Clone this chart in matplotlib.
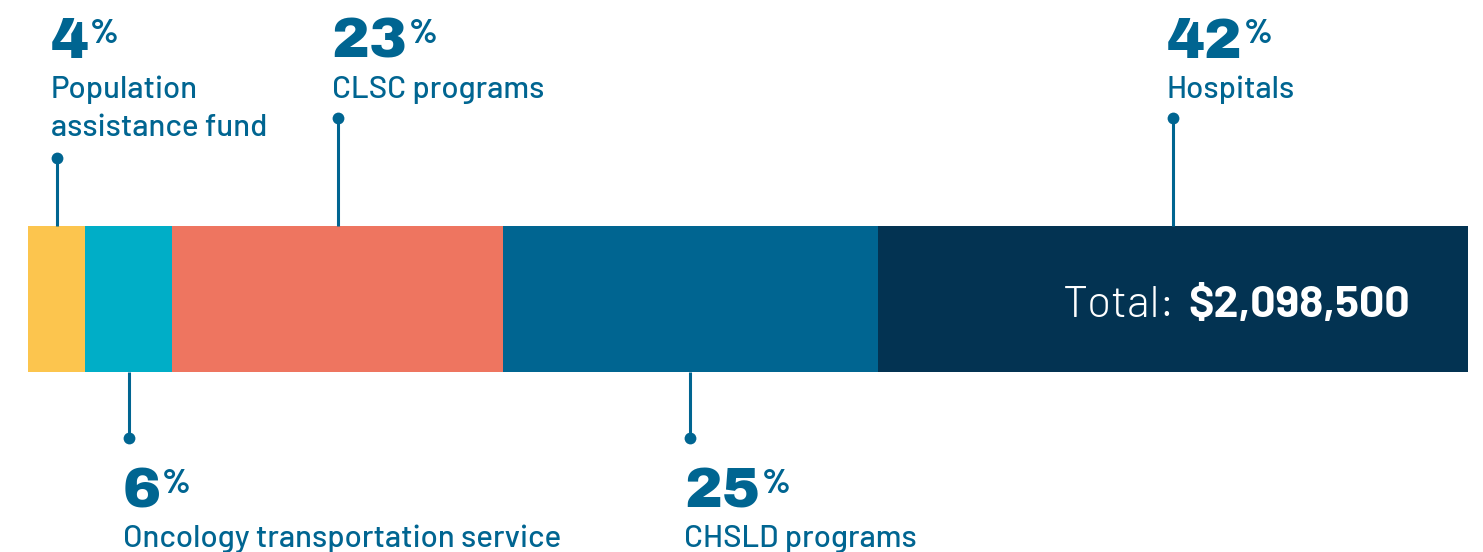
import matplotlib
matplotlib.use("Agg")
import matplotlib.pyplot as plt
import matplotlib.transforms as mtransforms

# ---- data ----
categories = ["Population\nassistance fund", "Oncology transportation service",
              "CLSC programs", "CHSLD programs", "Hospitals"]
percentages = [4, 6, 23, 25, 42]                 # printed labels
segment_share = [3.96, 6.04, 23.0, 26.0, 41.0]   # drawn bar widths
label_side = ["top", "bottom", "top", "bottom", "top"]
total_prefix = "Total:"
total_label = "$2,098,500"

colors = ["#FCC54E", "#00AEC7", "#EE7560", "#006591", "#033352"]
text_color = "#006591"

W, H = 1483, 552
fig = plt.figure(figsize=(W / 100, H / 100), dpi=100)
ax = fig.add_axes([0, 0, 1, 1])
px_per_pct = 1440 / 100
ax.set_xlim(-28 / px_per_pct, (W - 28) / px_per_pct)
ax.set_ylim(H, 0)
ax.axis("off")

bar_y, bar_h = 299, 146
lefts = []
acc = 0
for s in segment_share:
    lefts.append(acc)
    acc += s
ax.barh([bar_y] * len(segment_share), segment_share, left=lefts, height=bar_h,
        color=colors, linewidth=0)

num_family = "Archivo Black"
label_family = "Barlow"

bar_top = bar_y - bar_h / 2
bar_bot = bar_y + bar_h / 2
line_px = 40

fig.canvas.draw()
renderer = fig.canvas.get_renderer()

for cat, p, left, s, side in zip(categories, percentages, lefts, segment_share, label_side):
    xc = left + s / 2
    nlines = cat.count("\n") + 1
    toff = mtransforms.offset_copy(ax.transData, fig=fig, x=-6, y=0, units="dots")
    if side == "top":
        dot_y = 118 + (nlines - 1) * line_px
        y0 = bar_top
        num_base = 58
        lab_base = 98
    else:
        dot_y = 438
        y0 = bar_bot
        num_base = 508
        lab_base = 547
    ax.plot([xc, xc], [y0, dot_y], color=text_color, lw=2.2,
            solid_capstyle="butt", zorder=1)
    ax.plot([xc], [dot_y], "o", color=text_color, ms=8.5, mew=0, zorder=2)
    num = ax.text(xc, num_base, f"{p}", transform=toff, ha="left", va="baseline",
                  fontsize=41, family=num_family, color=text_color)
    bb = num.get_window_extent(renderer)
    fig.text((bb.x1 + 1) / W, 1 - (num_base - 15) / H, "%", ha="left",
             va="baseline", fontsize=25, fontweight="bold", family="Barlow",
             color=text_color)
    for i, ln in enumerate(cat.split("\n")):
        ax.text(xc, lab_base + i * 38, ln, transform=toff, ha="left",
                va="baseline", fontsize=22.5, fontweight=500, family=label_family,
                color=text_color)

tot_off = mtransforms.offset_copy(ax.transData, fig=fig, x=-58, y=0, units="dots")
t2 = ax.text(100, 317, total_label, transform=tot_off, ha="right", va="baseline",
             fontsize=32, fontweight="bold", family="Barlow", color="white")
bb2 = t2.get_window_extent(renderer)
fig.text((bb2.x0 - 13) / W, 1 - 317 / H, total_prefix, ha="right", va="baseline",
         fontsize=32, fontweight=300, family="Barlow", color="white")

fig.savefig("out.png", dpi=100)
